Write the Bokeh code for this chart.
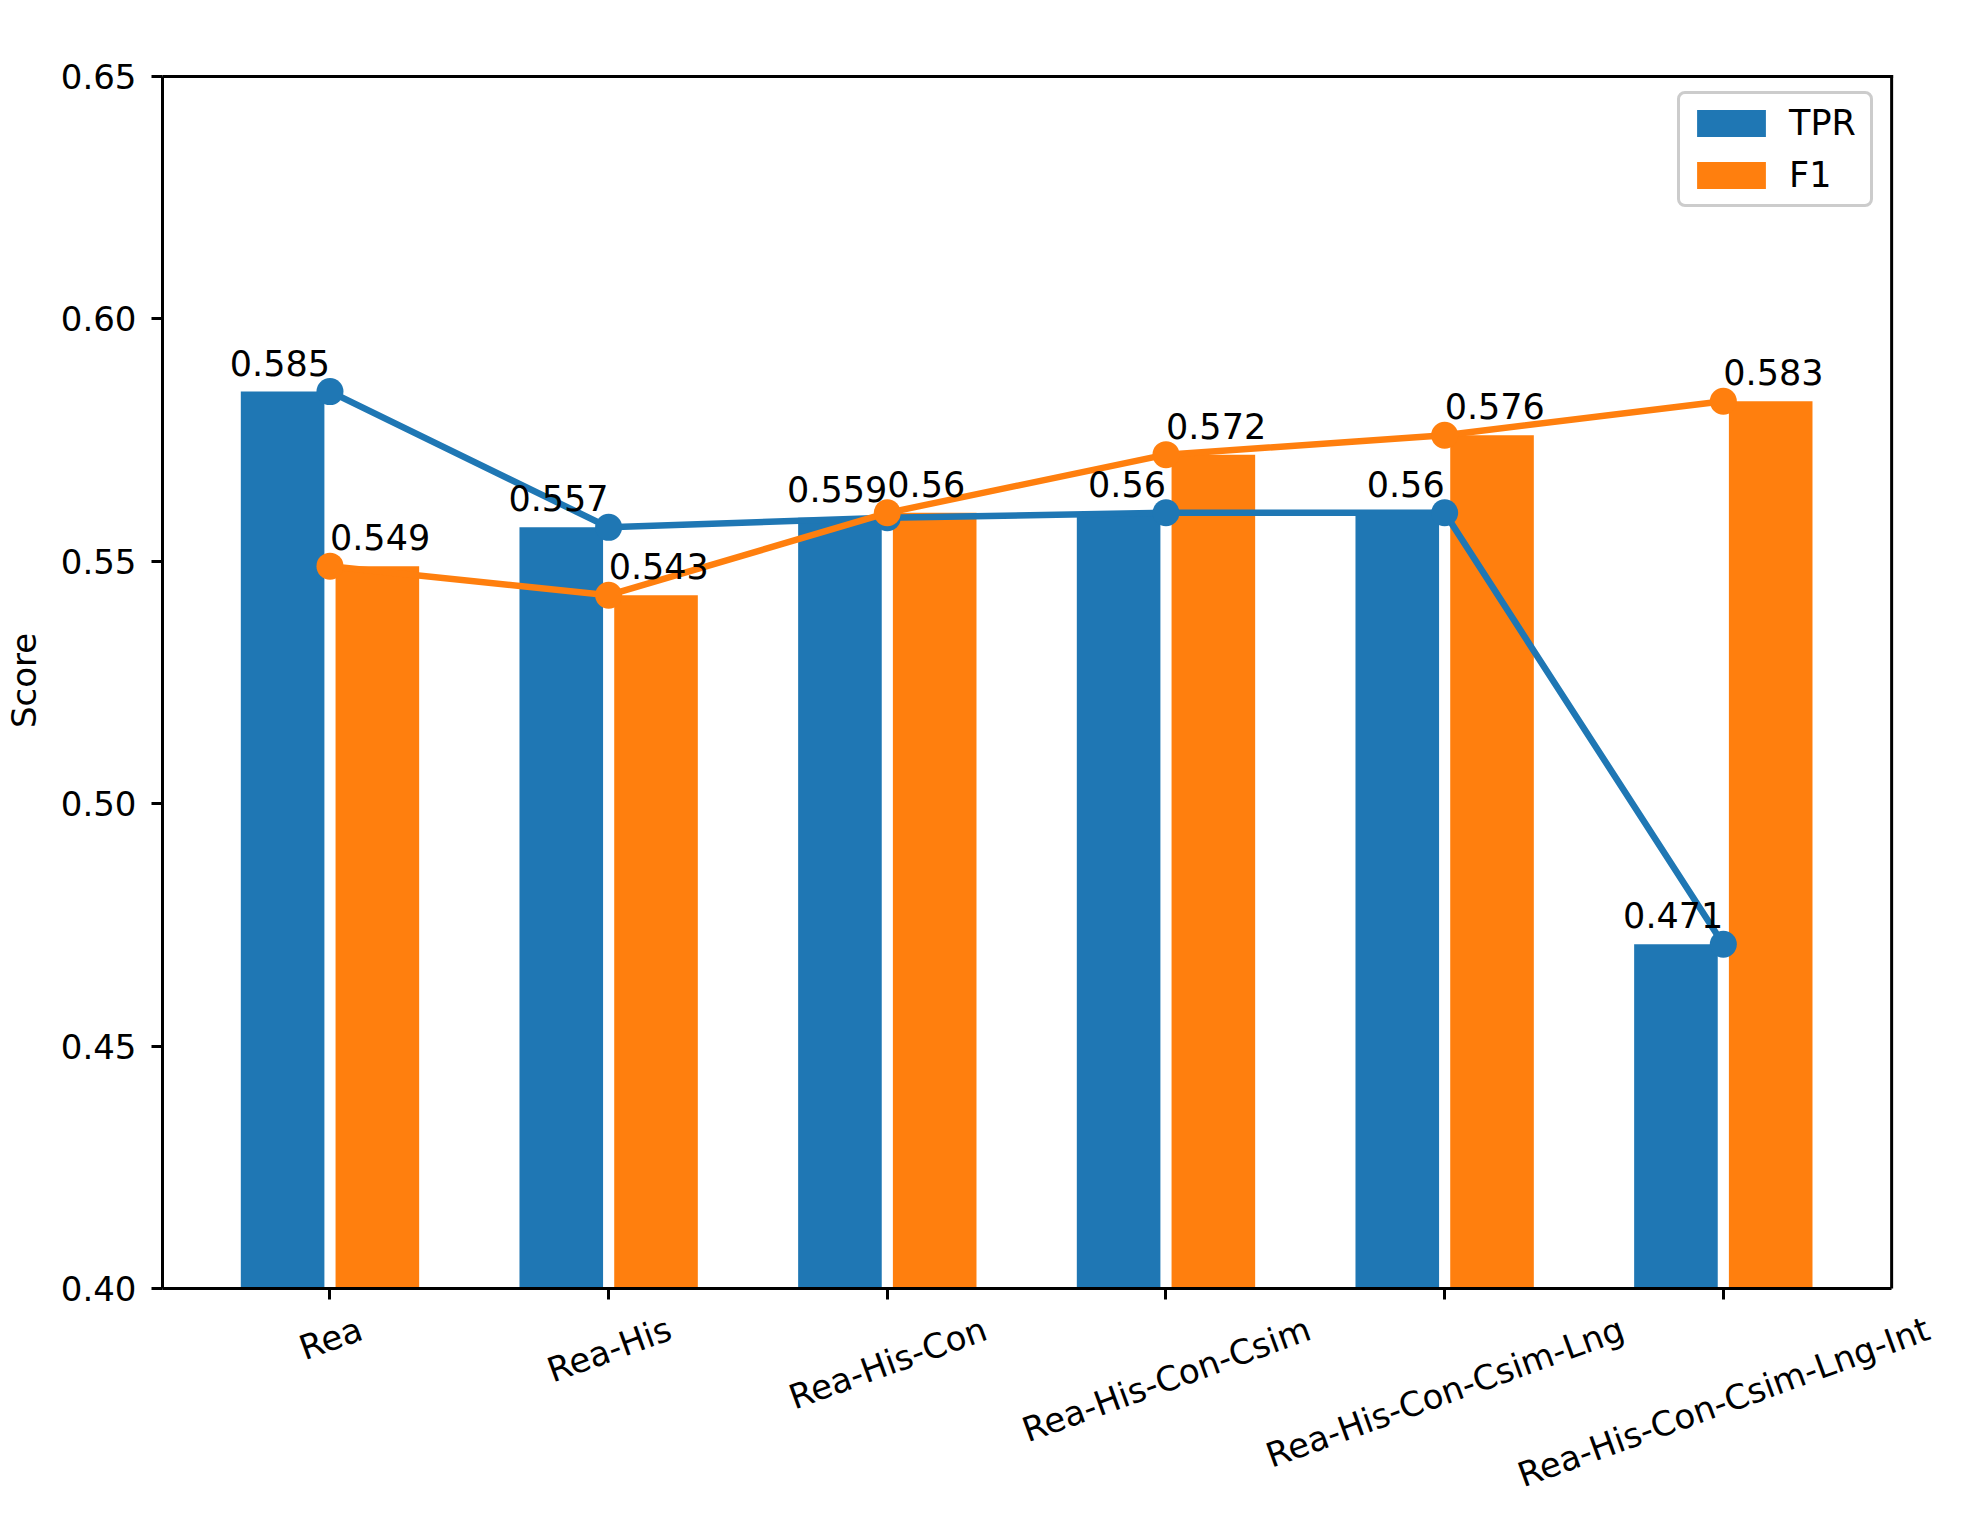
import math
from bokeh.plotting import figure
from bokeh.models import (ColumnDataSource, LabelSet, FixedTicker, PrintfTickFormatter,
                          Range1d, Legend, LegendItem, LinearAxis)
from bokeh.core.properties import value
from bokeh.embed import file_html
from bokeh.resources import INLINE

# ---- data ----
categories = ["Rea", "Rea-His", "Rea-His-Con", "Rea-His-Con-Csim",
              "Rea-His-Con-Csim-Lng", "Rea-His-Con-Csim-Lng-Int"]
tpr = [0.585, 0.557, 0.559, 0.56, 0.56, 0.471]
f1 = [0.549, 0.543, 0.56, 0.572, 0.576, 0.583]
y_ticks = [0.40, 0.45, 0.50, 0.55, 0.60, 0.65]
series_names = ["TPR", "F1"]

BLUE = "#1f77b4"
ORANGE = "#ff7f0e"
FONT = "DejaVu Sans"
FS = 34
FS_VAL = 35

xs = list(range(len(categories)))

# visible axes box (data units) and its pixel size
X0, X1 = -0.601, 5.604
Y0, Y1 = 0.40, 0.65
W_FIG, H_FIG = 1958, 1516
MB_L, MB_T = 157, 76
BOX_W, BOX_H = 1734, 1212
px_x = BOX_W / (X1 - X0)
px_y = BOX_H / (Y1 - Y0)

# the frame is extended a little (right/top) so the rotated last label fits;
# the extension is left blank and the box is drawn explicitly
EXT_R, EXT_T = 48, 4
X1E = X1 + EXT_R / px_x
Y1E = Y1 + EXT_T / px_y
MB_R = W_FIG - MB_L - BOX_W - EXT_R
MB_B = H_FIG - MB_T - BOX_H

p = figure(width=W_FIG, height=H_FIG, output_backend="svg", toolbar_location=None,
           x_range=Range1d(X0, X1E), y_range=Range1d(Y0, Y1E),
           min_border_left=MB_L, min_border_right=MB_R, min_border_top=MB_T - EXT_T,
           min_border_bottom=MB_B)
p.xgrid.visible = False
p.ygrid.visible = False
p.outline_line_color = None
p.background_fill_color = "white"
p.border_fill_color = "white"

src = ColumnDataSource(dict(
    x=xs, tpr=tpr, f1=f1,
    xb=[x - 0.17 for x in xs], xo=[x + 0.17 for x in xs],
    tpr_lbl=[str(v) for v in tpr], f1_lbl=[str(v) for v in f1],
))

b1 = p.vbar(x="xb", top="tpr", bottom=0, width=0.3, source=src,
            fill_color=BLUE, line_color=None)
b2 = p.vbar(x="xo", top="f1", bottom=0, width=0.3, source=src,
            fill_color=ORANGE, line_color=None)
p.line("x", "tpr", source=src, line_color=BLUE, line_width=6.5)
p.scatter("x", "tpr", source=src, size=27, fill_color=BLUE, line_color=None)
p.line("x", "f1", source=src, line_color=ORANGE, line_width=6.5)
p.scatter("x", "f1", source=src, size=27, fill_color=ORANGE, line_color=None)

# top and right spines of the axes box
p.segment(x0=[X0, X1], y0=[Y1, Y0], x1=[X1, X1], y1=[Y1, Y1],
          line_color="black", line_width=3, line_cap="square")

# value labels
p.add_layout(LabelSet(x="x", y="tpr", text="tpr_lbl", source=src, text_align="right",
                      text_baseline="alphabetic", y_offset=16, text_font=value(FONT),
                      text_font_size=f"{FS_VAL}px", text_color="black"))
p.add_layout(LabelSet(x="x", y="f1", text="f1_lbl", source=src, text_align="left",
                      text_baseline="alphabetic", y_offset=16, text_font=value(FONT),
                      text_font_size=f"{FS_VAL}px", text_color="black"))

# axes
for ax in (p.xaxis[0], p.yaxis[0]):
    ax.axis_line_width = 3
    ax.axis_line_color = "black"
    ax.major_tick_line_width = 3
    ax.major_tick_out = 11
    ax.major_tick_in = 0
    ax.minor_tick_out = 0
    ax.minor_tick_in = 0
    ax.major_label_text_font = FONT
    ax.major_label_text_font_size = f"{FS}px"
    ax.major_label_text_color = "black"

p.yaxis.bounds = (Y0, Y1)
p.yaxis.ticker = FixedTicker(ticks=y_ticks)
p.yaxis.formatter = PrintfTickFormatter(format="%.2f")
p.yaxis.major_label_standoff = 15
p.yaxis.axis_label = "Score"
p.yaxis.axis_label_text_font = FONT
p.yaxis.axis_label_text_font_size = f"{FS}px"
p.yaxis.axis_label_text_font_style = "normal"
p.yaxis.axis_label_text_color = "black"
p.yaxis.axis_label_standoff = 14

p.xaxis.bounds = (X0, X1)
p.xaxis.ticker = FixedTicker(ticks=xs)
p.xaxis.major_label_text_font_size = "0px"
p.xaxis.major_label_standoff = 0
p.xaxis.major_label_overrides = {i: "" for i in xs}

# rotated category labels, centred under each tick as matplotlib does:
# bokeh anchors a rotated label at its right end, so shift each anchor right
W = {"R": 0.695, "e": 0.615, "a": 0.613, "-": 0.361, "H": 0.752, "i": 0.278,
     "s": 0.521, "C": 0.698, "o": 0.612, "n": 0.634, "m": 0.974, "L": 0.557,
     "g": 0.635, "I": 0.295, "t": 0.392}
ang = math.radians(20)
label_ticks = []
overrides = {}
for i, c in enumerate(categories):
    w = sum(W.get(ch, 0.6) for ch in c) * FS
    t = round(i + (w * math.cos(ang) / 2) / px_x, 4)
    label_ticks.append(t)
    overrides[t] = c
lab_axis = LinearAxis(ticker=FixedTicker(ticks=label_ticks),
                      major_label_overrides=overrides,
                      major_label_orientation=ang,
                      axis_line_color=None, major_tick_line_color=None,
                      minor_tick_line_color=None, major_tick_out=0, major_tick_in=0,
                      minor_tick_out=0, minor_tick_in=0,
                      major_label_standoff=28,
                      major_label_text_font=FONT,
                      major_label_text_font_size=f"{FS}px",
                      major_label_text_color="black")
p.add_layout(lab_axis, "below")

# legend: bottom-left corner given in px from the axes box bottom-left
legend = Legend(items=[LegendItem(label=series_names[0], renderers=[b1]),
                       LegendItem(label=series_names[1], renderers=[b2])],
                location=(1515, BOX_H - 131), margin=0, padding=8, spacing=10,
                glyph_width=86, glyph_height=34, label_standoff=15,
                label_width=73, label_height=42,
                label_text_font=FONT, label_text_font_size=f"{FS_VAL}px",
                label_text_color="black",
                border_line_color="#cccccc", border_line_width=3, border_line_alpha=1,
                background_fill_alpha=0.8)
if "border_radius" in Legend.properties():
    legend.border_radius = 8
p.add_layout(legend)

open("out.html", "w").write(file_html(p, INLINE))
